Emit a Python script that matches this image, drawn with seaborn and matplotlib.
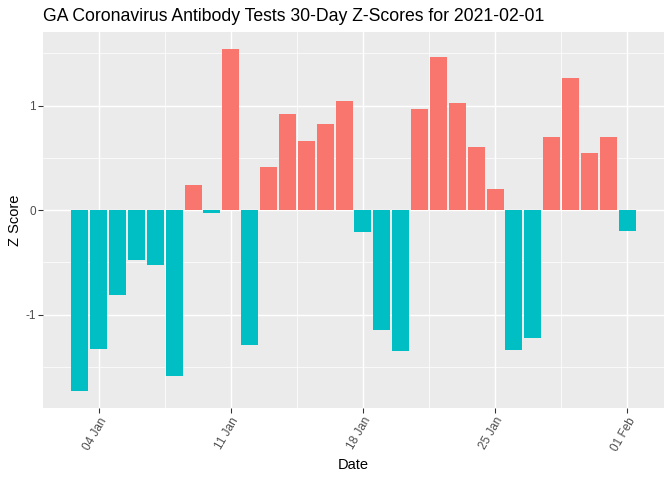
import numpy as np
import pandas as pd
import seaborn as sns
import matplotlib.pyplot as plt

# fechas y z-scores (03 Jan .. 01 Feb)
dates = pd.date_range("2021-01-03", "2021-02-01", freq="D")
z_scores = [-1.73, -1.33, -0.81, -0.48, -0.53, -1.59, 0.24, -0.03, 1.54, -1.29,
            0.41, 0.92, 0.66, 0.82, 1.04, -0.21, -1.15, -1.35, 0.97, 1.46,
            1.02, 0.60, 0.20, -1.34, -1.22, 0.70, 1.26, 0.55, 0.70, -0.20]
tick_dates = ["2021-01-04", "2021-01-11", "2021-01-18", "2021-01-25", "2021-02-01"]
y_ticks = [-1, 0, 1]

sns.set_theme(style="darkgrid")
plt.rcParams.update({
    "axes.facecolor": "#EBEBEB",
    "grid.color": "white",
    "axes.edgecolor": "#EBEBEB",
    "font.family": ["Liberation Sans", "DejaVu Sans"],
})

df = pd.DataFrame({"Date": dates, "Z": z_scores})
df["pos"] = np.arange(len(df))
df["sign"] = np.where(df["Z"] >= 0, "pos", "neg")

fig, ax = plt.subplots(figsize=(7, 5), dpi=96)
fig.subplots_adjust(left=43/672, right=664/672, top=1-32/480, bottom=1-408/480)

sns.barplot(data=df, x="pos", y="Z", hue="sign", palette={"pos": "#F8766D", "neg": "#00BFC4"},
            dodge=False, width=0.9, legend=False, saturation=1, linewidth=0,
            ax=ax, zorder=3)

# limites como ggplot (expansion 5%)
n = len(df)
span = (n - 1) + 0.9
ax.set_xlim(-0.45 - 0.05*span, n - 1 + 0.45 + 0.05*span)
ymin, ymax = min(z_scores), max(z_scores)
yr = ymax - ymin
ax.set_ylim(ymin - 0.05*yr, ymax + 0.05*yr)

tick_pos = [int((pd.Timestamp(d) - dates[0]).days) for d in tick_dates]
ax.set_xticks(tick_pos)
ax.set_xticklabels([pd.Timestamp(d).strftime("%d %b") for d in tick_dates],
                   rotation=60, ha="right", va="top", rotation_mode="anchor")
ax.set_xticks([p + 3.5 for p in tick_pos[:-1]], minor=True)
ax.set_yticks(y_ticks)
ax.set_yticklabels([str(v) for v in y_ticks])
ax.set_yticks([-1.5, -0.5, 0.5, 1.5], minor=True)

ax.grid(which="major", color="white", linewidth=1.07, zorder=0)
ax.grid(which="minor", color="white", linewidth=0.53, zorder=0)
ax.set_axisbelow(True)
for s in ax.spines.values():
    s.set_visible(False)

ax.tick_params(axis="both", which="major", length=3.5, width=0.8, color="#333333",
               labelcolor="#4D4D4D", labelsize=8.8, pad=2, bottom=True, left=True)
ax.tick_params(axis="both", which="minor", length=0)

ax.set_xlabel("Date", fontsize=11, color="black", labelpad=4)
ax.set_ylabel("Z Score", fontsize=11, color="black", labelpad=2)
ax.set_title("GA Coronavirus Antibody Tests 30-Day Z-Scores for 2021-02-01",
             loc="left", fontsize=13.2, color="black", pad=8)

fig.savefig("out.png", dpi=96)
